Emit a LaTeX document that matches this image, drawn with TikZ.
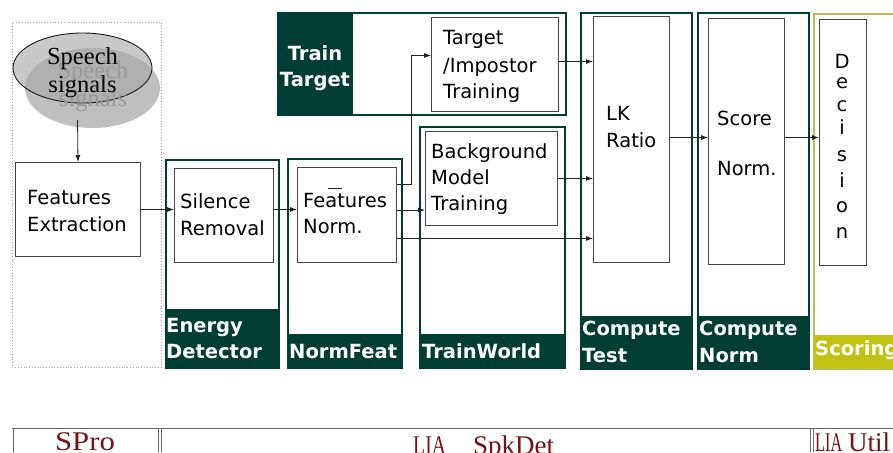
\documentclass[tikz,border=0pt]{standalone}
\usepackage{graphicx}
\usepackage{fontspec}
\setmainfont{DejaVu Sans}
\newfontfamily\speechfont{Liberation Serif}
\newfontfamily\toolfont{Liberation Serif}
\usetikzlibrary{arrows.meta,shapes.geometric}

\definecolor{deepteal}{HTML}{003D33}
\definecolor{scoreyellow}{HTML}{C2C214}
\definecolor{scoreedge}{HTML}{BDBD50}
\definecolor{boxgray}{HTML}{454545}
\definecolor{linegray}{HTML}{222222}
\definecolor{toolred}{HTML}{7A1010}

\tikzset{
  body/.style={font=\fontsize{19.5}{26}\selectfont, anchor=base west, inner sep=0pt},
  letter/.style={font=\fontsize{19.5}{26}\selectfont, anchor=base, inner sep=0pt},
  tag/.style={font=\fontsize{19.5}{26}\selectfont\bfseries, text=white, anchor=base west, inner sep=0pt},
  frame/.style={draw=deepteal, line width=1.6pt, anchor=north west, inner sep=0pt},
  tagfill/.style={fill=deepteal, anchor=north west, inner sep=0pt},
  inbox/.style={draw=boxgray, line width=1pt, fill=white, anchor=north west, inner sep=0pt},
  arr/.style={draw=linegray, line width=0.8pt, -{Latex[length=7pt,width=5pt]}},
  tool/.style={font=\toolfont\fontsize{27}{30}\selectfont, text=toolred, inner sep=0pt},
  cell/.style={draw=boxgray!80, line width=1pt},
  speech/.style={font=\speechfont\fontsize{24.5}{28}\selectfont, anchor=base, inner sep=0pt},
}

\begin{document}
\begin{tikzpicture}[x=1pt,y=-1pt]
\useasboundingbox (0,0) rectangle (893,452);
\clip (0,0) rectangle (893,452);

% ---- signal source panel ----
\node[draw=gray!70, dotted, line width=0.8pt, anchor=north west, inner sep=0pt,
      minimum width=149pt, minimum height=345pt] (src) at (12,22) {};
\node[ellipse, fill=gray!50, minimum width=135pt, minimum height=80pt, inner sep=0pt]
      (sh) at (92.5,88) {};
\node[ellipse, fill=gray!42, minimum width=139pt, minimum height=70pt, inner sep=0pt]
      (sp) at (82.5,68) {};
\begin{scope}
  \clip (82.5,68) ellipse [x radius=69.5, y radius=35];
  \fill[gray!62] (92.5,88) ellipse [x radius=67.5, y radius=40];
\end{scope}
\draw[gray!20!black, line width=0.9pt] (82.5,68) ellipse [x radius=69.5, y radius=35];
\node[speech, text=gray!80] (ghostA) at (93,78) {Speech};
\node[speech, text=gray!80] (ghostB) at (93,106) {signals};
\node[speech] (spA) at (82.5,64) {Speech};
\node[speech] (spB) at (82.5,92) {signals};

\node[inbox, minimum width=125pt, minimum height=94pt] (fe) at (15,162) {};
\node[body] (feA) at (27,204) {Features};
\node[body] (feB) at (27,231) {Extraction};
\coordinate (spOut) at (77.5,120);

% ---- Energy Detector ----
\node[frame, minimum width=113pt, minimum height=208pt] (edF) at (165,159) {};
\node[tagfill, minimum width=113pt, minimum height=58pt] (edL) at (165,309) {};
\node[inbox, minimum width=99pt, minimum height=94pt] (sr) at (174,168) {};
\node[body] (srA) at (180,208) {Silence};
\node[body] (srB) at (180,235) {Removal};
\node[tag] (edA) at (166,332) {Energy};
\node[tag] (edB) at (166,358) {Detector};

% ---- NormFeat ----
\node[frame, minimum width=114pt, minimum height=209pt] (nfF) at (287,158) {};
\node[tagfill, minimum width=114pt, minimum height=33pt] (nfL) at (287,334) {};
\node[inbox, minimum width=99pt, minimum height=95pt] (fn) at (297,167) {};
\node[body] (fnA) at (303,207) {Features};
\node[body] (fnB) at (303,233) {Norm.};
\draw[linegray, line width=0.8pt] (328,188) -- (342,188);
\node[tag] (nfA) at (289,358) {NormFeat};

% ---- TrainWorld ----
\node[frame, minimum width=145pt, minimum height=241pt] (twF) at (419,126) {};
\node[tagfill, minimum width=145pt, minimum height=33pt] (twL) at (419,334) {};
\node[inbox, minimum width=132pt, minimum height=94pt] (bg) at (425,131) {};
\node[body] (bgA) at (431,158) {Background};
\node[body] (bgB) at (431,184) {Model};
\node[body] (bgC) at (431,210) {Training};
\node[tag] (twA) at (422,358) {TrainWorld};

% ---- Train Target ----
\node[frame, minimum width=288pt, minimum height=102pt] (ttF) at (277,12) {};
\node[tagfill, minimum width=76pt, minimum height=102pt] (ttL) at (277,12) {};
\node[inbox, minimum width=127pt, minimum height=94pt] (ti) at (431,17) {};
\node[body] (tiA) at (443,45) {Target};
\node[body] (tiB) at (443,72) {/Impostor};
\node[body] (tiC) at (443,98) {Training};
\node[tag, anchor=base] (ttA) at (315,60) {Train};
\node[tag, anchor=base] (ttB) at (315,86) {Target};

% ---- Compute Test ----
\node[frame, minimum width=111pt, minimum height=356pt] (ctF) at (580,12) {};
\node[tagfill, minimum width=111pt, minimum height=52pt] (ctL) at (580,316) {};
\node[inbox, minimum width=76pt, minimum height=246pt] (lk) at (593,16) {};
\node[body] (lkA) at (606,120) {LK};
\node[body] (lkB) at (606,147) {Ratio};
\node[tag] (ctA) at (582,335) {Compute};
\node[tag] (ctB) at (582,362) {Test};

% ---- Compute Norm ----
\node[frame, minimum width=111pt, minimum height=356pt] (cnF) at (697,12) {};
\node[tagfill, minimum width=111pt, minimum height=52pt] (cnL) at (697,316) {};
\node[inbox, minimum width=76pt, minimum height=246pt] (sn) at (708,18) {};
\node[body] (snA) at (717,125) {Score};
\node[body] (snB) at (717,175) {Norm.};
\node[tag] (cnA) at (699,335) {Compute};
\node[tag] (cnB) at (699,362) {Norm};

% ---- Scoring ----
\node[draw=scoreedge, line width=1.6pt, anchor=north west, inner sep=0pt,
      minimum width=100pt, minimum height=355pt] (scF) at (813,13) {};
\node[fill=scoreyellow, anchor=north west, inner sep=0pt,
      minimum width=100pt, minimum height=33pt] (scL) at (813,335) {};
\node[inbox, minimum width=47pt, minimum height=246pt] (dc) at (819,19) {};
\node[letter] (d1) at (842,68) {D};
\node[letter] (d2) at (842,88) {e};
\node[letter] (d3) at (842,111) {c};
\node[letter] (d4) at (842,134) {i};
\node[letter] (d5) at (842,161) {s};
\node[letter] (d6) at (842,187) {i};
\node[letter] (d7) at (842,212) {o};
\node[letter] (d8) at (842,238) {n};
\node[tag] (scA) at (815,355) {Scoring};

% ---- connectors ----
\draw[arr] (spOut) -- (fe.north);
\draw[arr] (fe.east) -- (fe.east -| sr.west);
\draw[arr] (sr.east |- fe.east) -- (fn.west |- fe.east);
\coordinate (fnOutT) at ([yshift=-17pt]fn.north east);
\coordinate (tiIn) at ([yshift=9pt]ti.west);
\draw[arr] (fnOutT) -- ++(14,0) |- (tiIn);
\coordinate (fnOutB) at ([yshift=5pt]fn.east);
\draw[arr] (fnOutB) -- (fnOutB -| bg.west);
\coordinate (fnOutL) at ([yshift=-23.5pt]fn.east);
\draw[arr] (fnOutL) -- (fnOutL -| lk.west);
\coordinate (tiOut) at ([yshift=3pt]ti.east);
\draw[arr] (tiOut) -- (tiOut -| lk.west);
\draw[arr] (bg.east) -- (bg.east -| lk.west);
\coordinate (lkOut) at ([yshift=2pt]lk.east);
\draw[arr] (lkOut) -- (lkOut -| sn.west);
\draw[arr] (sn.east |- lkOut) -- (dc.west |- lkOut);

% ---- tool bar ----
\draw[cell] (12,428) -- (893,428);
\draw[cell] (13,428) -- (13,452);
\draw[cell] (158,428) -- (158,452);
\draw[cell] (161,428) -- (161,452);
\draw[cell] (810,428) -- (810,452);
\draw[cell] (813,428) -- (813,452);
\node[tool, anchor=base] (spro) at (85,450) {\scalebox{1.14}[1]{SPro}};
\node[tool, anchor=base west] (spk) at (413,454) {\scalebox{0.73}[1]{LIA}\hspace{27pt}SpkDet};
\node[tool, anchor=base west] (util) at (815,451) {\scalebox{0.6}[1]{LIA}\hspace{6pt}Util};
\end{tikzpicture}
\end{document}
